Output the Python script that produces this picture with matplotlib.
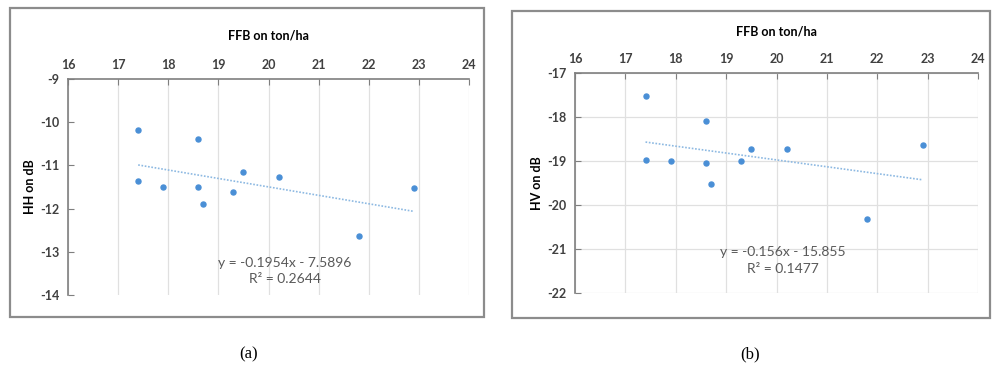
import numpy as np
import matplotlib
matplotlib.use("Agg")
import matplotlib.pyplot as plt
from matplotlib.patches import Rectangle

# FFB yield (ton/ha) for each plot
ffb = [17.4, 17.4, 17.9, 18.6, 18.6, 18.7, 19.3, 19.5, 20.2, 21.8, 22.9]
# backscatter values
hh = [-10.18, -11.35, -11.51, -10.39, -11.49, -11.89, -11.61, -11.16, -11.26, -12.64, -11.52]
hv = [-17.53, -18.98, -19.01, -18.09, -19.04, -19.52, -18.99, -18.72, -18.73, -20.31, -18.63]

# trend line coefficients (slope, intercept) and R^2 as printed
hh_fit = (-0.1954, -7.5896, 0.2644)
hv_fit = (-0.156, -15.855, 0.1477)

W, H = 1000, 371
fig = plt.figure(figsize=(10, 3.71), dpi=100)
plt.rcParams['font.family'] = ['Lato', 'DejaVu Sans']
plt.rcParams['axes.unicode_minus'] = False


def px(x0, y0, x1, y1):
    return [x0 / W, 1 - y1 / H, (x1 - x0) / W, (y1 - y0) / H]


def panel(box, area, yvals, fit, ylim, ylabel, hgrid, txt, letter, letter_x, xlabpad):
    fig.patches.append(Rectangle((box[0] / W, 1 - box[3] / H), (box[2] - box[0]) / W,
                                 (box[3] - box[1]) / H, transform=fig.transFigure,
                                 fill=False, edgecolor='#8c8c8c', linewidth=1.6))
    ax = fig.add_axes(px(*area))
    ax.scatter(ffb, yvals, s=13, color='#4a8fd6', zorder=3)
    xs = np.array([min(ffb), max(ffb)])
    ax.plot(xs, fit[0] * xs + fit[1], linestyle=(0, (1, 1)), color='#8db9e2', linewidth=1.2)
    ax.set_xlim(16, 24)
    ax.set_ylim(ylim)
    ax.set_xticks(range(16, 25))
    ax.set_yticks(range(ylim[0], ylim[1] + 1))
    ax.xaxis.tick_top()
    ax.xaxis.set_label_position('top')
    ax.tick_params(axis='both', direction='in', length=4, color='#7f7f7f',
                   labelsize=9, labelcolor='#404040', pad=6)
    for lab in ax.get_xticklabels() + ax.get_yticklabels():
        lab.set_fontweight('bold')
    ax.set_xlabel('FFB on ton/ha', fontsize=9, fontweight='bold', labelpad=xlabpad)
    ax.set_ylabel(ylabel, fontsize=9, fontweight='bold', labelpad=3)
    ax.grid(axis='x', color='#e0e0e0', linewidth=0.9)
    if hgrid:
        ax.grid(axis='y', color='#e0e0e0', linewidth=0.9)
    ax.set_axisbelow(True)
    for s in ['right', 'bottom']:
        ax.spines[s].set_visible(False)
    for s in ['left', 'top']:
        ax.spines[s].set_color('#7f7f7f')
        ax.spines[s].set_linewidth(1.2)
    ax.text(txt[0], txt[1],
            'y = %sx - %s\nR² = %s' % (fit[0], abs(fit[1]), fit[2]),
            ha='center', va='center', color='#595959', fontsize=10, linespacing=1.45)
    fig.text(letter_x / W, 1 - 354 / H, letter, ha='center', va='center',
             family='Liberation Serif', fontsize=12)
    return ax


panel((10, 8, 484, 317), (68, 79, 469, 295), hh, hh_fit, (-14, -9), 'HH on dB', False,
      (20.33, -13.44), '(a)', 249, 14)
panel((512, 11, 990, 318), (575, 73, 978, 293), hv, hv_fit, (-22, -17), 'HV on dB', True,
      (20.12, -21.26), '(b)', 750, 12)

fig.savefig('out.png', dpi=100)
